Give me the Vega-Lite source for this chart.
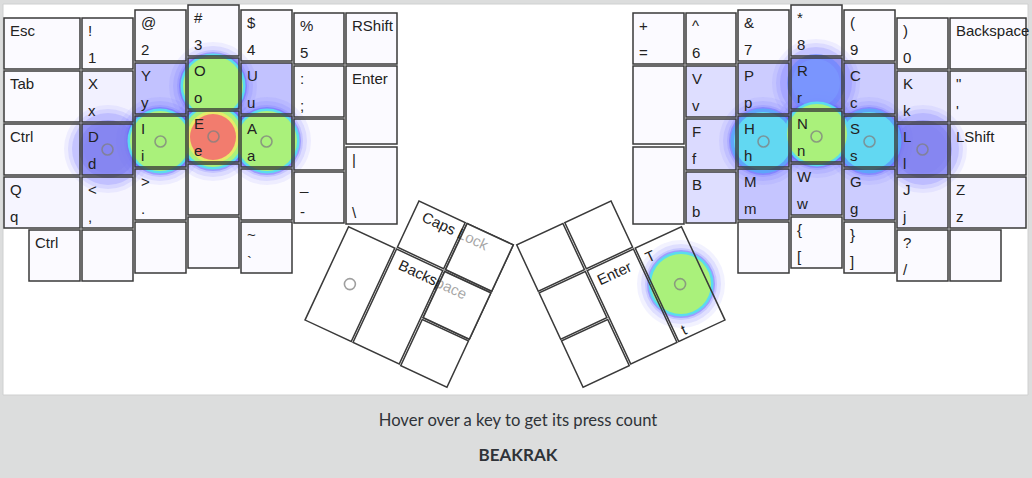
{
  "$schema": "https://vega.github.io/schema/vega-lite/v6.json",
  "width": 1032,
  "height": 478,
  "autosize": {"type": "fit", "contains": "padding"},
  "padding": 0,
  "background": "#dcdddd",
  "config": {"view": {"stroke": null}},
  "datasets": {
    "panel": [{"x1": 3, "x2": 1028, "y1": 4, "y2": 395}],
    "keys": [
      {"t": "Esc", "x1": 4, "x2": 80, "y1": 18, "y2": 69, "n": 0},
      {"t": "Tab", "x1": 4, "x2": 80, "y1": 71, "y2": 122, "n": 0},
      {"t": "Ctrl", "x1": 4, "x2": 80, "y1": 124, "y2": 175, "n": 0},
      {"t": "Q", "b": "q", "x1": 4, "x2": 80, "y1": 177, "y2": 228, "n": 3},
      {"t": "Ctrl", "x1": 29, "x2": 80, "y1": 230, "y2": 281, "n": 0},
      {"t": "!", "b": "1", "x1": 82, "x2": 133, "y1": 18, "y2": 69, "n": 0},
      {"t": "X", "b": "x", "x1": 82, "x2": 133, "y1": 71, "y2": 122, "n": 5},
      {"t": "D", "b": "d", "x1": 82, "x2": 133, "y1": 124, "y2": 175, "n": 40},
      {"t": "<", "b": ",", "x1": 82, "x2": 133, "y1": 177, "y2": 228, "n": 3},
      {"x1": 82, "x2": 133, "y1": 230, "y2": 281, "n": 0},
      {"t": "@", "b": "2", "x1": 135, "x2": 186, "y1": 10, "y2": 61, "n": 0},
      {"t": "Y", "b": "y", "x1": 135, "x2": 186, "y1": 63, "y2": 114, "n": 32},
      {"t": "I", "b": "i", "x1": 135, "x2": 186, "y1": 116, "y2": 167, "n": 40},
      {"t": ">", "b": ".", "x1": 135, "x2": 186, "y1": 169, "y2": 220, "n": 0},
      {"x1": 135, "x2": 186, "y1": 222, "y2": 273, "n": 0},
      {"t": "#", "b": "3", "x1": 188, "x2": 239, "y1": 5, "y2": 56, "n": 0},
      {"t": "O", "b": "o", "x1": 188, "x2": 239, "y1": 58, "y2": 109, "n": 40},
      {"t": "E", "b": "e", "x1": 188, "x2": 239, "y1": 111, "y2": 162, "n": 40},
      {"x1": 188, "x2": 239, "y1": 164, "y2": 215, "n": 0},
      {"x1": 188, "x2": 239, "y1": 217, "y2": 268, "n": 0},
      {"t": "$", "b": "4", "x1": 241, "x2": 292, "y1": 10, "y2": 61, "n": 0},
      {"t": "U", "b": "u", "x1": 241, "x2": 292, "y1": 63, "y2": 114, "n": 32},
      {"t": "A", "b": "a", "x1": 241, "x2": 292, "y1": 116, "y2": 167, "n": 40},
      {"x1": 241, "x2": 292, "y1": 169, "y2": 220, "n": 0},
      {"t": "~", "b": "`", "x1": 241, "x2": 292, "y1": 222, "y2": 273, "n": 0},
      {"t": "%", "b": "5", "x1": 294, "x2": 344, "y1": 13, "y2": 64, "n": 0},
      {"t": ":", "b": ";", "x1": 294, "x2": 344, "y1": 66, "y2": 117, "n": 0},
      {"x1": 294, "x2": 344, "y1": 119, "y2": 170, "n": 0},
      {"t": "_", "b": "-", "x1": 294, "x2": 344, "y1": 172, "y2": 223, "n": 0},
      {"t": "RShift", "x1": 346, "x2": 397, "y1": 13, "y2": 64, "n": 0},
      {"t": "Enter", "x1": 346, "x2": 397, "y1": 66, "y2": 144, "n": 0},
      {"t": "|", "b": "\\", "x1": 346, "x2": 397, "y1": 147, "y2": 224, "n": 0},
      {"t": "+", "b": "=", "x1": 633, "x2": 684, "y1": 13, "y2": 64, "n": 0},
      {"x1": 633, "x2": 684, "y1": 66, "y2": 144, "n": 0},
      {"x1": 633, "x2": 684, "y1": 147, "y2": 224, "n": 0},
      {"t": "^", "b": "6", "x1": 686, "x2": 736, "y1": 13, "y2": 64, "n": 0},
      {"t": "V", "b": "v", "x1": 686, "x2": 736, "y1": 66, "y2": 117, "n": 16},
      {"t": "F", "b": "f", "x1": 686, "x2": 736, "y1": 119, "y2": 170, "n": 18},
      {"t": "B", "b": "b", "x1": 686, "x2": 736, "y1": 172, "y2": 223, "n": 16},
      {"t": "&", "b": "7", "x1": 738, "x2": 789, "y1": 10, "y2": 61, "n": 0},
      {"t": "P", "b": "p", "x1": 738, "x2": 789, "y1": 63, "y2": 114, "n": 26},
      {"t": "H", "b": "h", "x1": 738, "x2": 789, "y1": 116, "y2": 167, "n": 40},
      {"t": "M", "b": "m", "x1": 738, "x2": 789, "y1": 169, "y2": 220, "n": 30},
      {"x1": 738, "x2": 789, "y1": 222, "y2": 273, "n": 0},
      {"t": "*", "b": "8", "x1": 791, "x2": 842, "y1": 5, "y2": 56, "n": 0},
      {"t": "R", "b": "r", "x1": 791, "x2": 842, "y1": 58, "y2": 109, "n": 40},
      {"t": "N", "b": "n", "x1": 791, "x2": 842, "y1": 111, "y2": 162, "n": 40},
      {"t": "W", "b": "w", "x1": 791, "x2": 842, "y1": 164, "y2": 215, "n": 26},
      {"t": "{", "b": "[", "x1": 791, "x2": 842, "y1": 217, "y2": 268, "n": 0},
      {"t": "(", "b": "9", "x1": 844, "x2": 895, "y1": 10, "y2": 61, "n": 0},
      {"t": "C", "b": "c", "x1": 844, "x2": 895, "y1": 63, "y2": 114, "n": 26},
      {"t": "S", "b": "s", "x1": 844, "x2": 895, "y1": 116, "y2": 167, "n": 40},
      {"t": "G", "b": "g", "x1": 844, "x2": 895, "y1": 169, "y2": 220, "n": 26},
      {"t": "}", "b": "]", "x1": 844, "x2": 895, "y1": 222, "y2": 273, "n": 0},
      {"t": ")", "b": "0", "x1": 897, "x2": 948, "y1": 18, "y2": 69, "n": 0},
      {"t": "K", "b": "k", "x1": 897, "x2": 948, "y1": 71, "y2": 122, "n": 10},
      {"t": "L", "b": "l", "x1": 897, "x2": 948, "y1": 124, "y2": 175, "n": 40},
      {"t": "J", "b": "j", "x1": 897, "x2": 948, "y1": 177, "y2": 228, "n": 6},
      {"t": "?", "b": "/", "x1": 897, "x2": 948, "y1": 230, "y2": 281, "n": 0},
      {"t": "Backspace", "x1": 950, "x2": 1026, "y1": 18, "y2": 69, "n": 0},
      {"t": "\"", "b": "'", "x1": 950, "x2": 1026, "y1": 71, "y2": 122, "n": 4},
      {"t": "LShift", "x1": 950, "x2": 1026, "y1": 124, "y2": 175, "n": 0},
      {"t": "Z", "b": "z", "x1": 950, "x2": 1026, "y1": 177, "y2": 228, "n": 4},
      {"x1": 950, "x2": 1001, "y1": 230, "y2": 281, "n": 0}
    ],
    "thumbs": [
      {"hand": "L", "kind": "1u", "x": 431.3, "y": 234.9, "t": "Caps Lock", "cover": false},
      {"hand": "L", "kind": "1u", "x": 479.4, "y": 257.3, "cover": true},
      {"hand": "L", "kind": "2u", "x": 349.9, "y": 284.1, "cover": false},
      {"hand": "L", "kind": "2u", "x": 397.9, "y": 306.5, "t": "Backspace", "cover": false},
      {"hand": "L", "kind": "1u", "x": 457.0, "y": 305.3, "cover": true},
      {"hand": "L", "kind": "1u", "x": 434.6, "y": 353.3, "cover": false},
      {"hand": "R", "kind": "1u", "x": 598.7, "y": 234.9, "cover": false},
      {"hand": "R", "kind": "1u", "x": 550.6, "y": 257.3, "cover": false},
      {"hand": "R", "kind": "2u", "x": 680.1, "y": 284.1, "t": "T", "b": "t", "cover": false},
      {"hand": "R", "kind": "2u", "x": 632.1, "y": 306.5, "t": "Enter", "cover": false},
      {"hand": "R", "kind": "1u", "x": 573.0, "y": 305.3, "cover": false},
      {"hand": "R", "kind": "1u", "x": 595.4, "y": 353.3, "cover": false}
    ],
    "blobs": [
      {"key": "E", "x": 213, "y": 137, "heat": 100},
      {"key": "O", "x": 213, "y": 86, "heat": 62},
      {"key": "I", "x": 160, "y": 141, "heat": 62},
      {"key": "A", "x": 267, "y": 141, "heat": 60},
      {"key": "D", "x": 108, "y": 149, "heat": 22},
      {"key": "T", "x": 681, "y": 284, "heat": 60},
      {"key": "N", "x": 817, "y": 134, "heat": 56},
      {"key": "R", "x": 816, "y": 83, "heat": 32},
      {"key": "H", "x": 763, "y": 141, "heat": 42},
      {"key": "S", "x": 869, "y": 141, "heat": 42},
      {"key": "L", "x": 923, "y": 149, "heat": 25}
    ],
    "home": [
      {"x": 107.5, "y": 149.5}, {"x": 160.5, "y": 141.5}, {"x": 213.5, "y": 136.5},
      {"x": 266.5, "y": 141.5}, {"x": 349.9, "y": 284.1}, {"x": 680.1, "y": 284.1},
      {"x": 763.5, "y": 141.5}, {"x": 816.5, "y": 136.5}, {"x": 869.5, "y": 141.5},
      {"x": 922.5, "y": 149.5}
    ],
    "captions": [
      {"text": "Hover over a key to get its press count", "x": 518, "y": 421, "bold": false},
      {"text": "BEAKRAK", "x": 518, "y": 456, "bold": true}
    ]
  },
  "layer": [
    {
      "data": {"name": "panel"},
      "mark": {"type": "rect", "fill": "#ffffff", "stroke": "#cfd0d0", "strokeWidth": 1},
      "encoding": {
        "x": {"field": "x1", "type": "quantitative", "scale": {"domain": [0, 1032], "nice": false, "zero": false}, "axis": null},
        "x2": {"field": "x2"},
        "y": {"field": "y1", "type": "quantitative", "scale": {"domain": [0, 478], "nice": false, "zero": false, "reverse": true}, "axis": null},
        "y2": {"field": "y2"}
      }
    },
    {
      "data": {"name": "keys"},
      "mark": {"type": "rect", "strokeWidth": 0},
      "encoding": {
        "x": {"field": "x1", "type": "quantitative", "axis": null},
        "x2": {"field": "x2"},
        "y": {"field": "y1", "type": "quantitative", "axis": null},
        "y2": {"field": "y2"},
        "fill": {"field": "n", "type": "quantitative", "scale": {"domain": [0, 40], "range": ["#ffffff", "#b4b4f2"], "clamp": true}, "legend": null}
      }
    },
    {
      "data": {"name": "blobs"},
      "mark": {"type": "circle", "size": 7744, "color": "#5c5cff", "opacity": 0.08},
      "encoding": {"x": {"field": "x", "type": "quantitative", "axis": null}, "y": {"field": "y", "type": "quantitative", "axis": null}}
    },
    {
      "data": {"name": "blobs"},
      "mark": {"type": "circle", "size": 6400, "color": "#5c5cff", "opacity": 0.12},
      "encoding": {"x": {"field": "x", "type": "quantitative", "axis": null}, "y": {"field": "y", "type": "quantitative", "axis": null}}
    },
    {
      "data": {"name": "blobs"},
      "mark": {"type": "circle", "size": 5184, "color": "#5c5cff", "opacity": 0.18},
      "encoding": {"x": {"field": "x", "type": "quantitative", "axis": null}, "y": {"field": "y", "type": "quantitative", "axis": null}}
    },
    {
      "data": {"name": "blobs"},
      "transform": [{"filter": "datum.heat >= 40"}],
      "mark": {"type": "circle", "size": 4624, "color": "#5050ff", "opacity": 0.35},
      "encoding": {"x": {"field": "x", "type": "quantitative", "axis": null}, "y": {"field": "y", "type": "quantitative", "axis": null}}
    },
    {
      "data": {"name": "blobs"},
      "transform": [{"filter": "datum.heat < 30"}],
      "mark": {"type": "circle", "size": 3364, "color": "#7a7aee", "opacity": 0.45},
      "encoding": {"x": {"field": "x", "type": "quantitative", "axis": null}, "y": {"field": "y", "type": "quantitative", "axis": null}}
    },
    {
      "data": {"name": "blobs"},
      "transform": [{"filter": "datum.heat < 30"}],
      "mark": {"type": "circle", "size": 2304, "color": "#8282f0", "opacity": 0.45},
      "encoding": {"x": {"field": "x", "type": "quantitative", "axis": null}, "y": {"field": "y", "type": "quantitative", "axis": null}}
    },
    {
      "data": {"name": "blobs"},
      "transform": [{"filter": "datum.heat >= 30 && datum.heat < 40"}],
      "mark": {"type": "circle", "size": 3364, "color": "#6c88ff", "opacity": 0.7},
      "encoding": {"x": {"field": "x", "type": "quantitative", "axis": null}, "y": {"field": "y", "type": "quantitative", "axis": null}}
    },
    {
      "data": {"name": "blobs"},
      "transform": [{"filter": "datum.heat >= 30 && datum.heat < 40"}],
      "mark": {"type": "circle", "size": 2304, "color": "#7c9cff", "opacity": 0.6},
      "encoding": {"x": {"field": "x", "type": "quantitative", "axis": null}, "y": {"field": "y", "type": "quantitative", "axis": null}}
    },
    {
      "data": {"name": "blobs"},
      "transform": [{"filter": "datum.heat >= 40 && datum.heat < 55"}],
      "mark": {"type": "circle", "size": 4225, "color": "#5aa8fa", "opacity": 0.9},
      "encoding": {"x": {"field": "x", "type": "quantitative", "axis": null}, "y": {"field": "y", "type": "quantitative", "axis": null}}
    },
    {
      "data": {"name": "blobs"},
      "transform": [{"filter": "datum.heat >= 55"}],
      "mark": {"type": "circle", "size": 4225, "color": "#5adcee", "opacity": 1},
      "encoding": {"x": {"field": "x", "type": "quantitative", "axis": null}, "y": {"field": "y", "type": "quantitative", "axis": null}}
    },
    {
      "data": {"name": "blobs"},
      "transform": [{"filter": "datum.heat >= 40 && datum.heat < 55"}],
      "mark": {"type": "circle", "size": 3364, "color": "#62d8f2", "opacity": 1},
      "encoding": {"x": {"field": "x", "type": "quantitative", "axis": null}, "y": {"field": "y", "type": "quantitative", "axis": null}}
    },
    {
      "data": {"name": "blobs"},
      "transform": [{"filter": "datum.heat >= 55"}],
      "mark": {"type": "circle", "size": 3600, "color": "#aaf17b", "opacity": 1},
      "encoding": {"x": {"field": "x", "type": "quantitative", "axis": null}, "y": {"field": "y", "type": "quantitative", "axis": null}}
    },
    {
      "data": {"name": "blobs"},
      "transform": [{"filter": "datum.heat >= 90"}],
      "mark": {"type": "circle", "size": 2704, "color": "#e6ea6a", "opacity": 1},
      "encoding": {"x": {"field": "x", "type": "quantitative", "axis": null}, "y": {"field": "y", "type": "quantitative", "axis": null}}
    },
    {
      "data": {"name": "blobs"},
      "transform": [{"filter": "datum.heat >= 90"}],
      "mark": {"type": "circle", "size": 2116, "color": "#f27c6e", "opacity": 1},
      "encoding": {"x": {"field": "x", "type": "quantitative", "axis": null}, "y": {"field": "y", "type": "quantitative", "axis": null}}
    },
    {
      "data": {"name": "keys"},
      "mark": {"type": "rect", "fillOpacity": 0, "stroke": "#3a3a3a", "strokeWidth": 1.5},
      "encoding": {
        "x": {"field": "x1", "type": "quantitative", "axis": null},
        "x2": {"field": "x2"},
        "y": {"field": "y1", "type": "quantitative", "axis": null},
        "y2": {"field": "y2"}
      }
    },
    {
      "data": {"name": "thumbs"},
      "transform": [{"filter": "datum.hand == 'L'"}],
      "mark": {"type": "point", "filled": false, "color": "#3a3a3a", "strokeWidth": 1.5, "opacity": 1, "size": 4, "angle": 25},
      "encoding": {
        "x": {"field": "x", "type": "quantitative", "axis": null},
        "y": {"field": "y", "type": "quantitative", "axis": null},
        "shape": {"field": "kind", "type": "nominal", "scale": {"domain": ["1u", "2u"], "range": ["M-25.5,-25.5L25.5,-25.5L25.5,25.5L-25.5,25.5Z", "M-25.5,-51.5L25.5,-51.5L25.5,51.5L-25.5,51.5Z"]}, "legend": null}
      }
    },
    {
      "data": {"name": "thumbs"},
      "transform": [{"filter": "datum.hand == 'R'"}],
      "mark": {"type": "point", "filled": false, "color": "#3a3a3a", "strokeWidth": 1.5, "opacity": 1, "size": 4, "angle": -25},
      "encoding": {
        "x": {"field": "x", "type": "quantitative", "axis": null},
        "y": {"field": "y", "type": "quantitative", "axis": null},
        "shape": {"field": "kind", "type": "nominal", "scale": {"domain": ["1u", "2u"], "range": ["M-25.5,-25.5L25.5,-25.5L25.5,25.5L-25.5,25.5Z", "M-25.5,-51.5L25.5,-51.5L25.5,51.5L-25.5,51.5Z"]}, "legend": null}
      }
    },
    {
      "data": {"name": "keys"},
      "transform": [{"filter": "isValid(datum.t)"}],
      "mark": {"type": "text", "align": "left", "baseline": "alphabetic", "dx": 6, "dy": 18, "font": "Liberation Sans", "fontSize": 15, "color": "#222222"},
      "encoding": {
        "x": {"field": "x1", "type": "quantitative", "axis": null},
        "y": {"field": "y1", "type": "quantitative", "axis": null},
        "text": {"field": "t", "type": "nominal"}
      }
    },
    {
      "data": {"name": "keys"},
      "transform": [{"filter": "isValid(datum.b)"}],
      "mark": {"type": "text", "align": "left", "baseline": "alphabetic", "dx": 6, "dy": -6, "font": "Liberation Sans", "fontSize": 15, "color": "#222222"},
      "encoding": {
        "x": {"field": "x1", "type": "quantitative", "axis": null},
        "y": {"field": "y2", "type": "quantitative", "axis": null},
        "text": {"field": "b", "type": "nominal"}
      }
    },
    {
      "data": {"name": "thumbs"},
      "transform": [{"filter": "datum.hand == 'L' && isValid(datum.t) && datum.kind == '1u'"}],
      "mark": {"type": "text", "align": "left", "baseline": "alphabetic", "angle": 25, "dx": -15.5, "dy": -8.5, "font": "Liberation Sans", "fontSize": 15, "color": "#222222"},
      "encoding": {
        "x": {"field": "x", "type": "quantitative", "axis": null},
        "y": {"field": "y", "type": "quantitative", "axis": null},
        "text": {"field": "t", "type": "nominal"}
      }
    },
    {
      "data": {"name": "thumbs"},
      "transform": [{"filter": "datum.hand == 'L' && isValid(datum.t) && datum.kind == '2u'"}],
      "mark": {"type": "text", "align": "left", "baseline": "alphabetic", "angle": 25, "dx": -16.5, "dy": -34, "font": "Liberation Sans", "fontSize": 15, "color": "#222222"},
      "encoding": {
        "x": {"field": "x", "type": "quantitative", "axis": null},
        "y": {"field": "y", "type": "quantitative", "axis": null},
        "text": {"field": "t", "type": "nominal"}
      }
    },
    {
      "data": {"name": "thumbs"},
      "transform": [{"filter": "datum.hand == 'R' && isValid(datum.t)"}],
      "mark": {"type": "text", "align": "left", "baseline": "alphabetic", "angle": -25, "dx": -20, "dy": -32.5, "font": "Liberation Sans", "fontSize": 15, "color": "#222222"},
      "encoding": {
        "x": {"field": "x", "type": "quantitative", "axis": null},
        "y": {"field": "y", "type": "quantitative", "axis": null},
        "text": {"field": "t", "type": "nominal"}
      }
    },
    {
      "data": {"name": "thumbs"},
      "transform": [{"filter": "datum.hand == 'R' && isValid(datum.b)"}],
      "mark": {"type": "text", "align": "left", "baseline": "alphabetic", "angle": -25, "dx": -18, "dy": 48, "font": "Liberation Sans", "fontSize": 15, "color": "#222222"},
      "encoding": {
        "x": {"field": "x", "type": "quantitative", "axis": null},
        "y": {"field": "y", "type": "quantitative", "axis": null},
        "text": {"field": "b", "type": "nominal"}
      }
    },
    {
      "data": {"name": "thumbs"},
      "transform": [{"filter": "datum.cover"}],
      "mark": {"type": "point", "filled": true, "fill": "#ffffff", "fillOpacity": 0.6, "stroke": "#3a3a3a", "strokeWidth": 1.5, "opacity": 1, "size": 4, "angle": 25, "shape": "M-25.5,-25.5L25.5,-25.5L25.5,25.5L-25.5,25.5Z"},
      "encoding": {
        "x": {"field": "x", "type": "quantitative", "axis": null},
        "y": {"field": "y", "type": "quantitative", "axis": null}
      }
    },
    {
      "data": {"name": "home"},
      "mark": {"type": "point", "shape": "circle", "filled": false, "color": "#808080", "strokeWidth": 1.6, "size": 121, "opacity": 0.75},
      "encoding": {
        "x": {"field": "x", "type": "quantitative", "axis": null},
        "y": {"field": "y", "type": "quantitative", "axis": null}
      }
    },
    {
      "data": {"name": "captions"},
      "transform": [{"filter": "!datum.bold"}],
      "mark": {"type": "text", "align": "center", "baseline": "middle", "font": "Lato", "fontSize": 16.6, "color": "#2f3338"},
      "encoding": {
        "x": {"field": "x", "type": "quantitative", "axis": null},
        "y": {"field": "y", "type": "quantitative", "axis": null},
        "text": {"field": "text", "type": "nominal"}
      }
    },
    {
      "data": {"name": "captions"},
      "transform": [{"filter": "datum.bold"}],
      "mark": {"type": "text", "align": "center", "baseline": "middle", "font": "Lato", "fontSize": 17, "fontWeight": "bold", "color": "#2f3338"},
      "encoding": {
        "x": {"field": "x", "type": "quantitative", "axis": null},
        "y": {"field": "y", "type": "quantitative", "axis": null},
        "text": {"field": "text", "type": "nominal"}
      }
    }
  ]
}
